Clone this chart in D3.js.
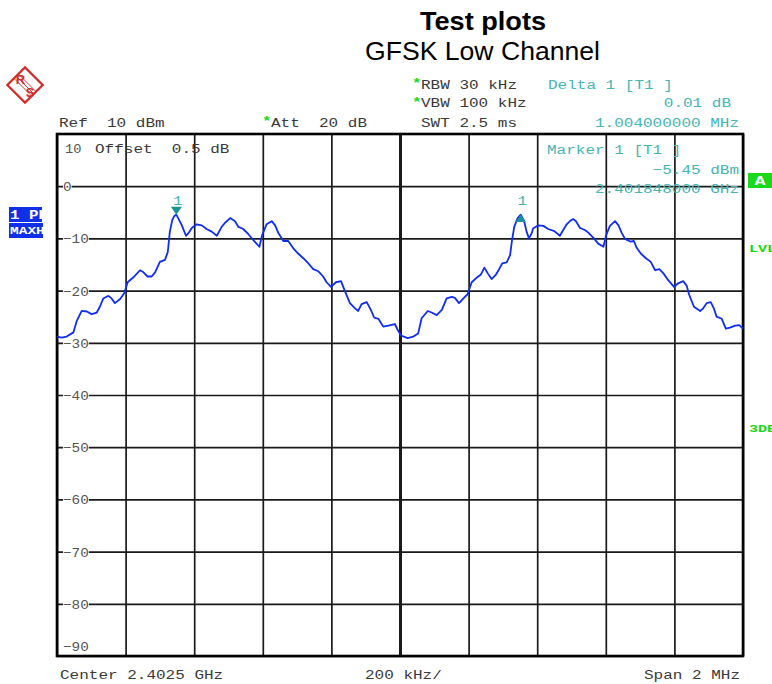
<!DOCTYPE html>
<html>
<head>
<meta charset="utf-8">
<script src="https://cdn.jsdelivr.net/npm/d3@7/dist/d3.min.js"></script>
<style>
  html, body { margin: 0; padding: 0; background: #fff; }
  svg { display: block; }
  text { white-space: pre; }
</style>
</head>
<body>
<script>
// Spectrum analyzer screen: GFSK low channel, max-hold trace

// Trace frequencies (MHz) and levels (dBm)
const freqMHz = [
  2401.500, 2401.514, 2401.528, 2401.548, 2401.557, 2401.572, 2401.587, 2401.601, 2401.616, 2401.625,
  2401.635, 2401.650, 2401.659, 2401.669, 2401.684, 2401.696, 2401.706, 2401.722, 2401.742, 2401.752,
  2401.764, 2401.776, 2401.786, 2401.800, 2401.815, 2401.823, 2401.829, 2401.836, 2401.842, 2401.848,
  2401.864, 2401.876, 2401.883, 2401.893, 2401.907, 2401.922, 2401.936, 2401.951, 2401.966, 2401.980,
  2401.990, 2402.005, 2402.019, 2402.029, 2402.043, 2402.058, 2402.072, 2402.090, 2402.098, 2402.111,
  2402.126, 2402.136, 2402.145, 2402.160, 2402.174, 2402.189, 2402.203, 2402.218, 2402.233, 2402.247,
  2402.262, 2402.276, 2402.286, 2402.299, 2402.313, 2402.328, 2402.340, 2402.354, 2402.369, 2402.378,
  2402.388, 2402.403, 2402.415, 2402.425, 2402.437, 2402.451, 2402.466, 2402.485, 2402.493, 2402.503,
  2402.522, 2402.539, 2402.553, 2402.563, 2402.581, 2402.592, 2402.607, 2402.622, 2402.636, 2402.651,
  2402.660, 2402.672, 2402.685, 2402.697, 2402.709, 2402.724, 2402.736, 2402.746, 2402.756, 2402.767,
  2402.779, 2402.789, 2402.798, 2402.811, 2402.821, 2402.826, 2402.833, 2402.843, 2402.852, 2402.862,
  2402.869, 2402.876, 2402.884, 2402.888, 2402.903, 2402.918, 2402.932, 2402.950, 2402.966, 2402.976,
  2402.986, 2402.997, 2403.005, 2403.013, 2403.025, 2403.039, 2403.049, 2403.064, 2403.078, 2403.093,
  2403.101, 2403.112, 2403.127, 2403.137, 2403.146, 2403.156, 2403.171, 2403.182, 2403.190, 2403.202,
  2403.217, 2403.231, 2403.244, 2403.256, 2403.268, 2403.282, 2403.299, 2403.311, 2403.326, 2403.336,
  2403.343, 2403.357, 2403.375, 2403.384, 2403.394, 2403.406, 2403.415, 2403.423, 2403.438, 2403.450,
  2403.462, 2403.477, 2403.489, 2403.500
];
const levelDbm = [
  -28.8, -29.0, -28.8, -28.0, -25.9, -23.9, -24.0, -24.5, -24.2, -23.1,
  -21.5, -21.0, -21.5, -22.4, -21.6, -20.5, -18.4, -17.5, -16.1, -16.5,
  -17.3, -17.3, -16.5, -14.5, -14.1, -12.6, -8.7, -6.5, -5.7, -5.45,
  -7.5, -9.5, -9.0, -8.0, -7.3, -7.5, -8.2, -8.7, -9.5, -7.8,
  -7.0, -6.1, -6.7, -7.8, -8.2, -9.2, -10.3, -11.6, -9.4, -7.3,
  -6.7, -7.5, -8.9, -10.5, -10.5, -11.9, -12.9, -13.8, -14.8, -15.9,
  -16.3, -17.3, -18.4, -19.3, -18.4, -18.2, -20.2, -22.4, -23.4, -23.9,
  -22.6, -22.2, -23.7, -25.2, -25.4, -26.9, -26.7, -26.4, -27.5, -28.6,
  -29.1, -28.8, -28.2, -25.3, -23.9, -24.2, -24.7, -23.7, -21.5, -21.2,
  -21.4, -22.4, -21.5, -20.7, -18.4, -17.5, -16.9, -15.6, -16.7, -17.8,
  -17.0, -15.9, -14.8, -14.6, -13.2, -10.6, -7.8, -6.1, -5.44, -6.7,
  -8.7, -10.0, -9.0, -8.1, -7.5, -7.6, -8.2, -8.6, -9.5, -8.4,
  -7.3, -6.6, -6.3, -6.7, -8.0, -8.4, -8.9, -9.9, -11.0, -11.6,
  -9.4, -7.6, -6.7, -7.5, -8.9, -10.1, -10.6, -10.5, -11.8, -12.9,
  -13.8, -14.5, -16.1, -15.9, -16.7, -18.0, -19.3, -18.6, -18.2, -19.1,
  -20.8, -23.1, -23.9, -23.4, -22.4, -22.2, -23.4, -25.0, -25.4, -27.3,
  -27.1, -26.7, -26.6, -27.3
];

// Axis settings
const centerMHz = 2402.5;
const spanMHz = 2;
const divMHz = 0.2;
const refLevel = 10;
const dbPerDiv = 10;
const levelTicks = [0, -10, -20, -30, -40, -50, -60, -70, -80, -90];

// Markers
const marker1FreqMHz = 2401.848;
const marker1Level = -5.45;
const delta1FreqMHz = 1.004;
const delta1Db = 0.01;

const W = 772, H = 684;
const L = 57, R = 743, T = 134, B = 656;

const svg = d3.select("body").append("svg").attr("width", W).attr("height", H);

const x = d3.scaleLinear().domain([centerMHz - spanMHz / 2, centerMHz + spanMHz / 2]).range([L, R]);
const y = d3.scaleLinear().domain([refLevel - 10 * dbPerDiv, refLevel]).range([B, T]);

const MONO = "'Liberation Mono', 'DejaVu Sans Mono', monospace";
const SANS = "'Liberation Sans', Arial, sans-serif";
const TEXT = "#3a3a3a", TEAL = "#45b5b5", GREEN = "#19d919", RED = "#d42a2a";

function mono(sel, str, px, py, o = {}) {
  const adv = o.adv || 9.6;
  const len = str.length * adv;
  const anchor = o.anchor || "start";
  const x0 = anchor === "end" ? px - len : anchor === "middle" ? px - len / 2 : px;
  return sel.append("text")
    .attr("x", x0).attr("y", py)
    .attr("font-family", MONO)
    .attr("font-size", o.size || 12.5)
    .attr("font-weight", o.weight || "normal")
    .attr("textLength", len)
    .attr("lengthAdjust", "spacingAndGlyphs")
    .attr("fill", o.color || TEXT)
    .text(str);
}

// Title
svg.append("text").attr("x", 483).attr("y", 30).attr("text-anchor", "middle")
  .attr("font-family", SANS).attr("font-weight", "bold")
  .attr("font-size", 26).attr("textLength", 126).attr("lengthAdjust", "spacingAndGlyphs")
  .attr("fill", "#000").text("Test plots");
svg.append("text").attr("x", 482.5).attr("y", 60).attr("text-anchor", "middle")
  .attr("font-family", SANS)
  .attr("font-size", 26).attr("textLength", 235).attr("lengthAdjust", "spacingAndGlyphs")
  .attr("fill", "#000").text("GFSK Low Channel");

// Maker logo
const logo = svg.append("g").attr("transform", "translate(25,85)");
logo.append("rect").attr("x", -12.5).attr("y", -12.5).attr("width", 25).attr("height", 25)
  .attr("transform", "rotate(45)").attr("fill", "#fff").attr("stroke", RED).attr("stroke-width", 2.2);
[-2.2, 0, 2.2].forEach(d => {
  logo.append("line").attr("x1", -9 + d).attr("y1", -9 - d).attr("x2", 9 + d).attr("y2", 9 - d)
    .attr("stroke", RED).attr("stroke-width", 0.9);
});
logo.append("text").attr("x", -4.5).attr("y", -1).attr("text-anchor", "middle")
  .attr("font-family", SANS).attr("font-weight", "bold")
  .attr("font-size", 13).attr("fill", RED).text("R");
logo.append("text").attr("x", 5).attr("y", 12).attr("text-anchor", "middle")
  .attr("font-family", SANS).attr("font-weight", "bold")
  .attr("font-size", 13).attr("fill", RED).text("S");

// Settings header
mono(svg, "Ref  10 dBm", 59, 127);
mono(svg, "*", 262, 125, { color: GREEN, weight: "bold" });
mono(svg, "Att  20 dB", 271, 127);
mono(svg, "*", 412, 87, { color: GREEN, weight: "bold" });
mono(svg, "RBW 30 kHz", 421, 88.5);
mono(svg, "*", 412, 106, { color: GREEN, weight: "bold" });
mono(svg, "VBW 100 kHz", 421, 107);
mono(svg, "SWT 2.5 ms", 421, 127);

// Delta marker readout
const fmtDb = d3.format(".2f");
mono(svg, "Delta 1 [T1 ]", 548, 88.5, { color: TEAL });
mono(svg, fmtDb(delta1Db) + " dB", 731, 107, { color: TEAL, anchor: "end" });
mono(svg, d3.format(".9f")(delta1FreqMHz) + " MHz", 739, 127, { color: TEAL, anchor: "end" });

// Grid
const grid = svg.append("g");
const xTicks = d3.range(0, 11).map(i => centerMHz - spanMHz / 2 + i * divMHz);
grid.append("g").attr("transform", `translate(0,${B})`)
  .call(d3.axisBottom(x).tickValues(xTicks).tickSize(-(B - T)).tickFormat(""))
  .call(g => g.select(".domain").remove())
  .call(g => g.selectAll("line").attr("stroke", "#1a1a1a").attr("stroke-width", 1.7)
    .filter(d => Math.abs(d - centerMHz) < 1e-9).attr("stroke-width", 3));
grid.append("g").attr("transform", `translate(${L},0)`)
  .call(d3.axisLeft(y).tickValues(levelTicks).tickSize(-(R - L)).tickFormat(""))
  .call(g => g.select(".domain").remove())
  .call(g => g.selectAll("line").attr("stroke", "#1a1a1a").attr("stroke-width", 1.7));

// Frame
svg.append("rect").attr("x", L).attr("y", T).attr("width", R - L).attr("height", B - T)
  .attr("fill", "none").attr("stroke", "#000").attr("stroke-width", 2.6);

// Level labels
const lab = svg.append("g");
levelTicks.forEach(v => {
  const s = v === 0 ? "0" : "\u2212" + Math.abs(v);
  const adv = 8.6;
  const py = v === -90 ? y(v) - 5 : y(v) + 5;
  lab.append("rect").attr("x", 63).attr("y", py - 9.5).attr("width", s.length * adv).attr("height", 11)
    .attr("fill", "#fff");
  mono(lab, s, 63, py, { adv, color: "#555", size: 13 });
});
mono(svg, "10", 65, 153, { adv: 8.2, color: "#555", size: 13 });
mono(svg, "Offset  0.5 dB", 95, 153);

// Marker readout
mono(svg, "Marker 1 [T1 ]", 547, 154, { color: TEAL });
mono(svg, d3.format(".2f")(marker1Level).replace("-", "\u2212") + " dBm", 739, 174, { color: TEAL, anchor: "end" });
mono(svg, (marker1FreqMHz / 1000).toFixed(9) + " GHz", 739, 193, { color: TEAL, anchor: "end" });

// Trace
const pts = freqMHz.map((f, i) => [f, levelDbm[i]]);
svg.append("path").datum(pts)
  .attr("fill", "none").attr("stroke", "#0f2df5").attr("stroke-width", 1.8)
  .attr("stroke-linejoin", "round")
  .attr("d", d3.line().x(d => x(d[0])).y(d => y(d[1])));

// Marker 1 (down triangle) and delta marker 1 (up triangle)
const m1x = x(marker1FreqMHz), m1y = y(marker1Level);
svg.append("path").attr("d", `M${m1x - 5.5},${m1y - 8}L${m1x + 5.5},${m1y - 8}L${m1x},${m1y}Z`)
  .attr("fill", "#179595");
mono(svg, "1", m1x + 1.5, 205, { color: TEAL, anchor: "middle", size: 13 });
const d1x = x(marker1FreqMHz + delta1FreqMHz), d1y = y(marker1Level + delta1Db);
svg.append("path").attr("d", `M${d1x - 5},${d1y + 7.5}L${d1x + 5},${d1y + 7.5}L${d1x},${d1y}Z`)
  .attr("fill", "#179595");
mono(svg, "1", d1x + 1.5, 205, { color: TEAL, anchor: "middle", size: 13 });

// Right-hand status flags
svg.append("rect").attr("x", 748).attr("y", 173).attr("width", 24).attr("height", 15).attr("fill", GREEN);
mono(svg, "A", 760, 185, { color: "#fff", anchor: "middle", size: 12, adv: 11, weight: "bold" });
mono(svg, "LVL", 749, 252, { color: GREEN, size: 11, adv: 9, weight: "bold" });
mono(svg, "3DB", 749, 432, { color: GREEN, size: 11, adv: 9, weight: "bold" });

// Left-hand trace flags
const clip = svg.append("clipPath").attr("id", "flagclip");
clip.append("rect").attr("x", 9).attr("y", 200).attr("width", 34).attr("height", 40);
const flags = svg.append("g").attr("clip-path", "url(#flagclip)");
flags.append("rect").attr("x", 9).attr("y", 207).attr("width", 33).attr("height", 15).attr("fill", "#1030e8");
flags.append("rect").attr("x", 9).attr("y", 223).attr("width", 34).attr("height", 15).attr("fill", "#1030e8");
mono(flags, "1 PK", 10, 219, { color: "#fff", size: 12, adv: 9.5, weight: "bold" });
mono(flags, "MAXH", 10, 234, { color: "#fff", size: 10, adv: 8.7, weight: "bold" });

// Footer
mono(svg, "Center 2.4025 GHz", 60, 679);
mono(svg, "200 kHz/", 365, 679);
mono(svg, "Span 2 MHz", 740, 679, { anchor: "end" });
</script>
</body>
</html>
